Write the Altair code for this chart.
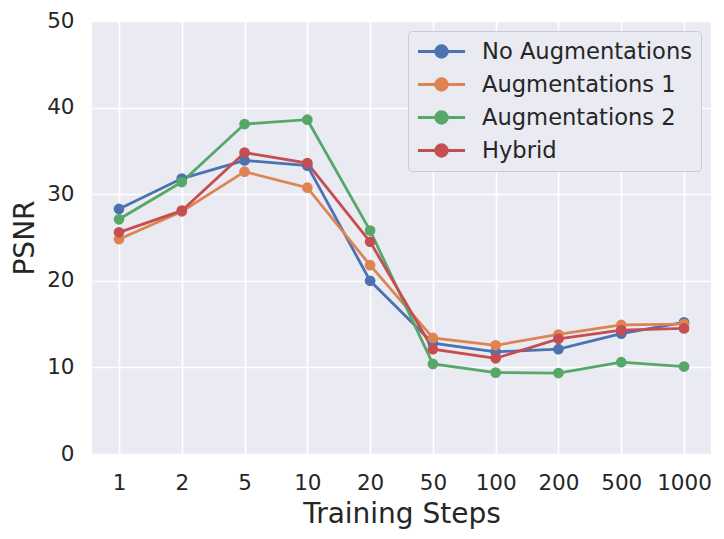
import altair as alt
import pandas as pd

steps = ["1", "2", "5", "10", "20", "50", "100", "200", "500", "1000"]
series_names = ["No Augmentations", "Augmentations 1", "Augmentations 2", "Hybrid"]
no_aug = [28.3, 31.8, 33.9, 33.3, 20.0, 12.8, 11.8, 12.1, 13.9, 15.2]
aug1 = [24.8, 28.0, 32.6, 30.75, 21.8, 13.4, 12.55, 13.8, 14.9, 15.0]
aug2 = [27.1, 31.4, 38.1, 38.6, 25.8, 10.4, 9.4, 9.35, 10.6, 10.1]
hybrid = [25.6, 28.1, 34.8, 33.6, 24.5, 12.1, 11.05, 13.3, 14.3, 14.5]
colors = ["#4C72B0", "#DD8452", "#55A868", "#C44E52"]
y_ticks = [0, 10, 20, 30, 40, 50]

rows = []
for name, vals in zip(series_names, [no_aug, aug1, aug2, hybrid]):
    for i, (s, v) in enumerate(zip(steps, vals)):
        rows.append({"step": s, "idx": i, "psnr": v, "series": name})
df = pd.DataFrame(rows)

font = "DejaVu Sans"
txt = "#262626"

x = alt.X("step:O", sort=steps,
          scale=alt.Scale(type="point", padding=0.43),
          axis=alt.Axis(title="Training Steps", labelAngle=0, titleY=68.7,
                        titleBaseline="alphabetic"))
y = alt.Y("psnr:Q", scale=alt.Scale(domain=[0, 50], nice=False, zero=True),
          axis=alt.Axis(title="PSNR", values=y_ticks, titleX=-58.4, titleY=216.5,
                        titleAngle=270, titleBaseline="alphabetic", titleAlign="center"))

legend_symbol = ("M-2.14,0H2.14M-0.53,0A0.53,0.53 0 1,0 0.53,0"
                 "A0.53,0.53 0 1,0 -0.53,0Z")
color = alt.Color("series:N", sort=series_names,
                  scale=alt.Scale(domain=series_names, range=colors),
                  legend=alt.Legend(title=None, orient="top-right", offset=10,
                                    padding=8, fillColor="#EAEAF2",
                                    strokeColor="#CCCCCC", cornerRadius=4,
                                    labelFontSize=22.6, labelColor=txt, labelFont=font,
                                    labelLimit=400,
                                    symbolType=legend_symbol, symbolSize=484,
                                    symbolStrokeWidth=2.8, symbolOffset=13,
                                    labelOffset=28, rowPadding=8))

base = alt.Chart(df)
lines = base.mark_line(strokeWidth=2.8).encode(x=x, y=y, color=color,
                                               order=alt.Order("idx:Q"))
points = base.mark_circle(size=115, opacity=1).encode(x=x, y=y, color=color)

chart = alt.layer(lines, points).properties(
    width=619, height=433,
    autosize=alt.AutoSizeParams(type="none"),
    padding={"left": 84, "top": 13, "right": 5, "bottom": 77},
    background="white",
).configure_view(
    fill="#EAEAF2", stroke=None
).configure_axis(
    grid=True, gridColor="white", gridWidth=1.6, domain=False, ticks=False,
    tickSize=0, labelFont=font, labelFontSize=21.5, labelColor=txt,
    labelPadding=18, titleFont=font, titleFontSize=28, titleColor=txt,
    titleFontWeight="normal"
)

chart.save("out.html", embed_options={"renderer": "svg", "actions": False})
